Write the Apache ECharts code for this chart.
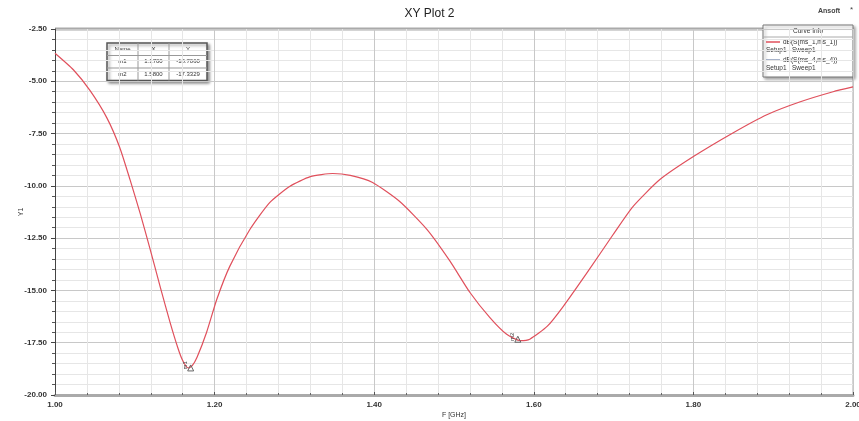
<!DOCTYPE html>
<html>
<head>
<meta charset="utf-8">
<script src="https://cdn.jsdelivr.net/npm/echarts@6/dist/echarts.min.js"></script>
<style>
  html, body { margin: 0; padding: 0; background: #fff; }
  #chart { width: 859px; height: 421px; }
</style>
</head>
<body>
<div id="chart"></div>
<script>
// frequency sweep (GHz) and the S-parameter curve (dB)
const freqGHz = [1.000, 1.023, 1.044, 1.065, 1.081, 1.094, 1.107, 1.119, 1.132, 1.144, 1.154, 1.160, 1.167,
  1.172, 1.178, 1.190, 1.203, 1.219, 1.244, 1.269, 1.294, 1.320, 1.348, 1.370, 1.398, 1.432, 1.466,
  1.495, 1.520, 1.545, 1.566, 1.583, 1.595, 1.617, 1.637, 1.667, 1.699, 1.724, 1.758, 1.800, 1.850,
  1.892, 1.934, 1.975, 2.000];
const s11dB = [-3.66, -4.45, -5.45, -6.75, -8.15, -9.7, -11.35, -13.0, -14.85, -16.5, -17.75, -18.35, -18.71,
  -18.6, -18.2, -17.0, -15.4, -13.85, -12.1, -10.8, -10.03, -9.56, -9.41, -9.5, -9.84, -10.75, -12.08,
  -13.6, -15.1, -16.3, -17.1, -17.4, -17.33, -16.71, -15.76, -14.14, -12.35, -11.0, -9.7, -8.6, -7.46,
  -6.6, -5.98, -5.5, -5.27];

// markers shown in the table
const markerNames = ['m1', 'm2'];
const markerX = [1.17, 1.58];
const markerY = [-18.706, -17.3329];

// curve info legend
const curveNames = ['dB(S(ms_1,ms_1))', 'dB(S(ms_4,ms_4))'];
const curveSetup = ['Setup1 : Sweep1', 'Setup1 : Sweep1'];
const curveColors = ['#e0505c', '#8a9ab8'];

const chart = echarts.init(document.getElementById('chart'));
const font = 'Liberation Sans';
const lblStyle = { fontFamily: font, fontSize: 8, color: '#333', fontWeight: 'bold' };

// marker table graphic
const tbl = { x: 107, y: 43, colX: [0, 31, 62, 100], rowH: 12.5 };
const tableRows = [['Name', 'X', 'Y']].concat(
  markerNames.map((n, i) => [n, markerX[i].toFixed(4), markerY[i].toFixed(4)])
);
const tableGraphics = [{
  type: 'rect', x: tbl.x, y: tbl.y,
  shape: { width: 100, height: tbl.rowH * 3 },
  style: { fill: '#fff', stroke: '#555', lineWidth: 1.5, shadowBlur: 3, shadowColor: 'rgba(0,0,0,0.4)', shadowOffsetX: 2, shadowOffsetY: 2 }
}];
for (let r = 1; r < 3; r++) {
  tableGraphics.push({ type: 'line', shape: { x1: tbl.x, y1: tbl.y + r * tbl.rowH, x2: tbl.x + 100, y2: tbl.y + r * tbl.rowH }, style: { stroke: '#999', lineWidth: 1 } });
}
for (let c = 1; c < 3; c++) {
  tableGraphics.push({ type: 'line', shape: { x1: tbl.x + tbl.colX[c], y1: tbl.y, x2: tbl.x + tbl.colX[c], y2: tbl.y + 3 * tbl.rowH }, style: { stroke: '#999', lineWidth: 1 } });
}
tableRows.forEach((row, r) => {
  row.forEach((txt, c) => {
    tableGraphics.push({
      type: 'text',
      x: tbl.x + (tbl.colX[c] + tbl.colX[c + 1]) / 2,
      y: tbl.y + r * tbl.rowH + tbl.rowH / 2,
      style: { text: txt, fontFamily: font, fontSize: 6, fill: '#333', align: 'center', verticalAlign: 'middle' }
    });
  });
});

// curve info legend graphic
const lg = { x: 763, y: 25, w: 90, h: 52 };
const legendGraphics = [
  { type: 'rect', x: lg.x, y: lg.y, shape: { width: lg.w, height: lg.h },
    style: { fill: '#fff', stroke: '#777', lineWidth: 1, shadowBlur: 3, shadowColor: 'rgba(0,0,0,0.35)', shadowOffsetX: 2, shadowOffsetY: 2 } },
  { type: 'text', x: lg.x + lg.w / 2, y: lg.y + 6,
    style: { text: 'Curve Info', fontFamily: font, fontSize: 6.5, fill: '#333', align: 'center', verticalAlign: 'middle' } },
  { type: 'line', shape: { x1: lg.x, y1: lg.y + 12, x2: lg.x + lg.w, y2: lg.y + 12 }, style: { stroke: '#aaa', lineWidth: 1 } }
];
curveNames.forEach((name, i) => {
  const yy = lg.y + 17 + i * 18;
  legendGraphics.push(
    { type: 'line', shape: { x1: lg.x + 3, y1: yy, x2: lg.x + 17, y2: yy }, style: { stroke: curveColors[i], lineWidth: 1.5 } },
    { type: 'text', x: lg.x + 20, y: yy, style: { text: name, fontFamily: font, fontSize: 6.5, fill: '#333', verticalAlign: 'middle' } },
    { type: 'text', x: lg.x + 3, y: yy + 8, style: { text: curveSetup[i], fontFamily: font, fontSize: 6.5, fill: '#333', verticalAlign: 'middle' } }
  );
});

const option = {
  backgroundColor: '#fff',
  animation: false,
  title: {
    text: 'XY Plot 2',
    left: 'center',
    top: 3,
    textStyle: { fontFamily: font, fontSize: 12, fontWeight: 'normal', color: '#222' }
  },
  grid: { left: 55, right: 6, top: 29, bottom: 26, containLabel: false, outerBoundsMode: 'none' },
  xAxis: {
    type: 'value',
    min: 1, max: 2, interval: 0.2,
    name: 'F [GHz]',
    nameLocation: 'middle',
    nameGap: 17,
    nameMoveOverlap: false,
    nameTextStyle: { fontFamily: font, fontSize: 7, color: '#333' },
    axisLine: { show: true, onZero: false, lineStyle: { color: '#aaa', width: 3 } },
    axisTick: { show: true, inside: true, length: 3, lineStyle: { color: '#555' } },
    minorTick: { show: true, splitNumber: 5, length: 2, lineStyle: { color: '#666' } },
    axisLabel: { ...lblStyle, margin: 6, formatter: v => v.toFixed(2) },
    splitLine: { show: true, lineStyle: { color: '#c8c8c8', width: 1 } },
    minorSplitLine: { show: true, lineStyle: { color: '#e6e6e6', width: 1 } }
  },
  yAxis: {
    type: 'value',
    min: -20, max: -2.5, interval: 2.5,
    name: 'Y1',
    nameLocation: 'middle',
    nameGap: 30,
    nameMoveOverlap: false,
    nameRotate: 90,
    nameTextStyle: { fontFamily: font, fontSize: 7, color: '#333' },
    axisLine: { show: true, onZero: false, lineStyle: { color: '#444', width: 1 } },
    axisTick: { show: true, length: 4, lineStyle: { color: '#444' } },
    minorTick: { show: true, splitNumber: 5, length: 3, lineStyle: { color: '#555' } },
    axisLabel: { ...lblStyle, margin: 8, formatter: v => v.toFixed(2) },
    splitLine: { show: true, lineStyle: { color: '#c8c8c8', width: 1 } },
    minorSplitLine: { show: true, lineStyle: { color: '#e6e6e6', width: 1 } }
  },
  graphic: [
    // top frame band and right edge of the plot area
    { type: 'line', shape: { x1: 55, y1: 29, x2: 853, y2: 29 }, style: { stroke: '#aaa', lineWidth: 3 } },
    { type: 'line', shape: { x1: 853, y1: 29, x2: 853, y2: 395 }, style: { stroke: '#aaa', lineWidth: 1 } },
    { type: 'text', x: 818, y: 11, style: { text: 'Ansoft', fontFamily: font, fontSize: 7, fontWeight: 'bold', fill: '#444', verticalAlign: 'middle' } },
    { type: 'text', x: 850, y: 10, style: { text: '*', fontFamily: font, fontSize: 8, fill: '#444', verticalAlign: 'middle' } },
    ...tableGraphics,
    ...legendGraphics
  ],
  series: [{
    name: curveNames[0],
    type: 'line',
    data: freqGHz.map((f, i) => [f, s11dB[i]]),
    showSymbol: false,
    smooth: 0.2,
    lineStyle: { color: curveColors[0], width: 1.2 },
    markPoint: {
      symbol: 'triangle',
      symbolSize: 6,
      itemStyle: { color: 'transparent', borderColor: '#666', borderWidth: 1 },
      label: { show: true, position: 'insideTop', offset: [4, -8], rotate: 90, fontFamily: font, fontSize: 6, color: '#444', formatter: p => p.name },
      data: markerNames.map((n, i) => ({ name: n, coord: [markerX[i], markerY[i]] }))
    }
  }]
};

chart.setOption(option);
</script>
</body>
</html>
